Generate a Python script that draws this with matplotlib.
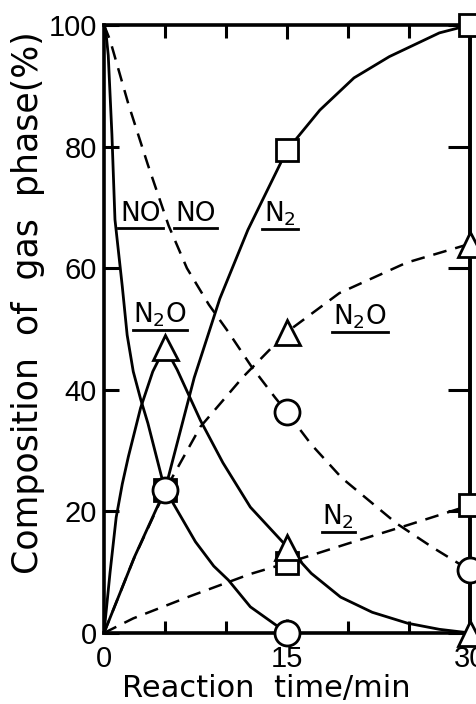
import matplotlib.pyplot as plt

# Curvas continuas (serie A)
no_a_t = [0, 0.15, 0.35, 0.65, 0.9, 1.5, 1.9, 2.4, 3.0, 3.6, 4.3, 5.0, 5.65, 7.5, 9.0, 10.2, 12.0, 14.1, 15.0]
no_a_v = [100, 99, 95, 82, 68, 57, 49, 43, 38.5, 34.5, 29, 23.5, 21.4, 15, 11, 8.7, 4.3, 1.3, 0]
n2o_a_t = [0, 0.5, 1.0, 1.5, 2.0, 3.0, 4.0, 5.0, 6.0, 7.9, 9.75, 12.0, 15.0, 17.0, 19.4, 22.0, 24.9, 27.5, 30.0]
n2o_a_v = [0, 10, 19, 24.5, 29, 37, 43, 47, 43.3, 35, 28, 20.7, 14.2, 9.8, 5.9, 3.4, 1.6, 0.6, 0]
n2_a_t = [0, 2.5, 5.0, 7.4, 9.5, 11.8, 15.0, 17.7, 20.5, 23.4, 27.5, 30.0]
n2_a_v = [0, 12.5, 23.5, 42, 55, 66.3, 79.4, 86, 91.3, 94.8, 98.7, 100]

# Curvas discontinuas (serie B)
no_b_t = [0, 0.5, 2.0, 3.6, 5.3, 6.8, 8.6, 10.2, 12.1, 14.0, 15.0, 17.0, 19.5, 24.0, 27.0, 30.0]
no_b_v = [100, 97.5, 87, 77, 67, 60, 54, 49.5, 43.8, 38.8, 36.3, 31, 25.5, 18, 14, 10.3]
n2o_b_t = [0, 2.4, 4.4, 5.6, 7.9, 11.4, 15.0, 19.3, 24.8, 30.0]
n2o_b_v = [0, 12, 20.7, 25.6, 33.9, 42.1, 49.5, 55.9, 60.9, 64.0]
n2_b_t = [0, 2.4, 7.0, 12.0, 15.0, 20.0, 25.0, 30.0]
n2_b_v = [0, 2.4, 6.0, 9.7, 11.5, 14.7, 17.8, 21.0]

# Puntos experimentales (marcadores)
no_a_mt, no_a_m = [5, 15], [23.5, 0]
n2o_a_mt, n2o_a_m = [5, 15, 30], [47, 14.2, 0]
n2_a_mt, n2_a_m = [5, 15, 30], [23.5, 79.4, 100]
no_b_mt, no_b_m = [15, 30], [36.3, 10.3]
n2o_b_mt, n2o_b_m = [15, 30], [49.5, 64.0]
n2_b_mt, n2_b_m = [15, 30], [11.5, 21.0]

# Etiquetas de las curvas
etiquetas = ['NO', 'NO', r'$\mathregular{N_2O}$', r'$\mathregular{N_2}$', r'$\mathregular{N_2O}$', r'$\mathregular{N_2}$']
etiq_x = [3.0, 7.5, 4.6, 14.4, 21.0, 19.2]
etiq_y = [66.6, 66.6, 49.8, 66.4, 49.5, 16.6]
etiq_w = [3.7, 3.5, 4.4, 2.95, 4.6, 2.7]

x_ticks = [0, 15, 30]
y_ticks = [0, 20, 40, 60, 80, 100]

fig = plt.figure(figsize=(4.77, 7.04), dpi=100)
ax = fig.add_axes([0.218, 0.1009, 0.767, 0.8636])

lw_s = 2.0
lw_d = 1.8
dash = (5.5, 3.6)
ax.plot(no_a_t, no_a_v, color='black', lw=lw_s, zorder=2)
ax.plot(n2o_a_t, n2o_a_v, color='black', lw=lw_s, zorder=2)
ax.plot(n2_a_t, n2_a_v, color='black', lw=lw_s, zorder=2)
ax.plot(no_b_t, no_b_v, color='black', lw=lw_d, dashes=dash, zorder=2)
ax.plot(n2o_b_t, n2o_b_v, color='black', lw=lw_d, dashes=dash, zorder=2)
ax.plot(n2_b_t, n2_b_v, color='black', lw=lw_d, dashes=dash, zorder=2)

mk = dict(ls='none', mfc='white', mec='black', mew=2.0, clip_on=False, zorder=4)
ax.plot(n2_a_mt, n2_a_m, marker='s', ms=16, **mk)
ax.plot(n2_b_mt, n2_b_m, marker='s', ms=16, **mk)
ax.plot(n2o_a_mt, n2o_a_m, marker='^', ms=18, **mk)
ax.plot(n2o_b_mt, n2o_b_m, marker='^', ms=18, **mk)
ax.plot(no_a_mt, no_a_m, marker='o', ms=18, **mk)
ax.plot(no_b_mt, no_b_m, marker='o', ms=18, **mk)

# etiquetas subrayadas
for txt, x, y, w in zip(etiquetas, etiq_x, etiq_y, etiq_w):
    ax.text(x, y + 1.2, txt, ha='center', va='baseline', fontsize=19,
            family='DejaVu Sans', zorder=5)
    ax.plot([x - w / 2, x + w / 2], [y, y], color='black', lw=2.0, zorder=5)

ax.set_xlim(0, 30)
ax.set_ylim(0, 100)
ax.set_xticks(x_ticks)
ax.set_xticks([5, 10, 20, 25], minor=True)
ax.set_yticks(y_ticks)
for s in ax.spines.values():
    s.set_linewidth(2.6)
ax.tick_params(which='both', direction='in', top=True, right=False, width=2.2)
ax.tick_params(axis='x', which='major', length=10, pad=9)
ax.tick_params(axis='x', which='minor', length=9)
ax.tick_params(axis='y', which='major', length=11, pad=5)
for lab in ax.get_xticklabels() + ax.get_yticklabels():
    lab.set_family('Liberation Sans')
    lab.set_fontsize(21)

# marcas del lado derecho, algo mas largas
ax_r = ax.secondary_yaxis('right')
ax_r.set_yticks(y_ticks)
ax_r.tick_params(direction='in', length=16, width=2.2, labelright=False)
ax_r.spines['right'].set_linewidth(2.6)

fig.text(0.558, 0.001, 'Reaction  time/min', ha='center', va='bottom', fontsize=22)
fig.text(0.059, 0.57, 'Composition  of  gas  phase(%)', rotation=90, ha='center', va='center', fontsize=25)

plt.savefig('out.png', dpi=100)
